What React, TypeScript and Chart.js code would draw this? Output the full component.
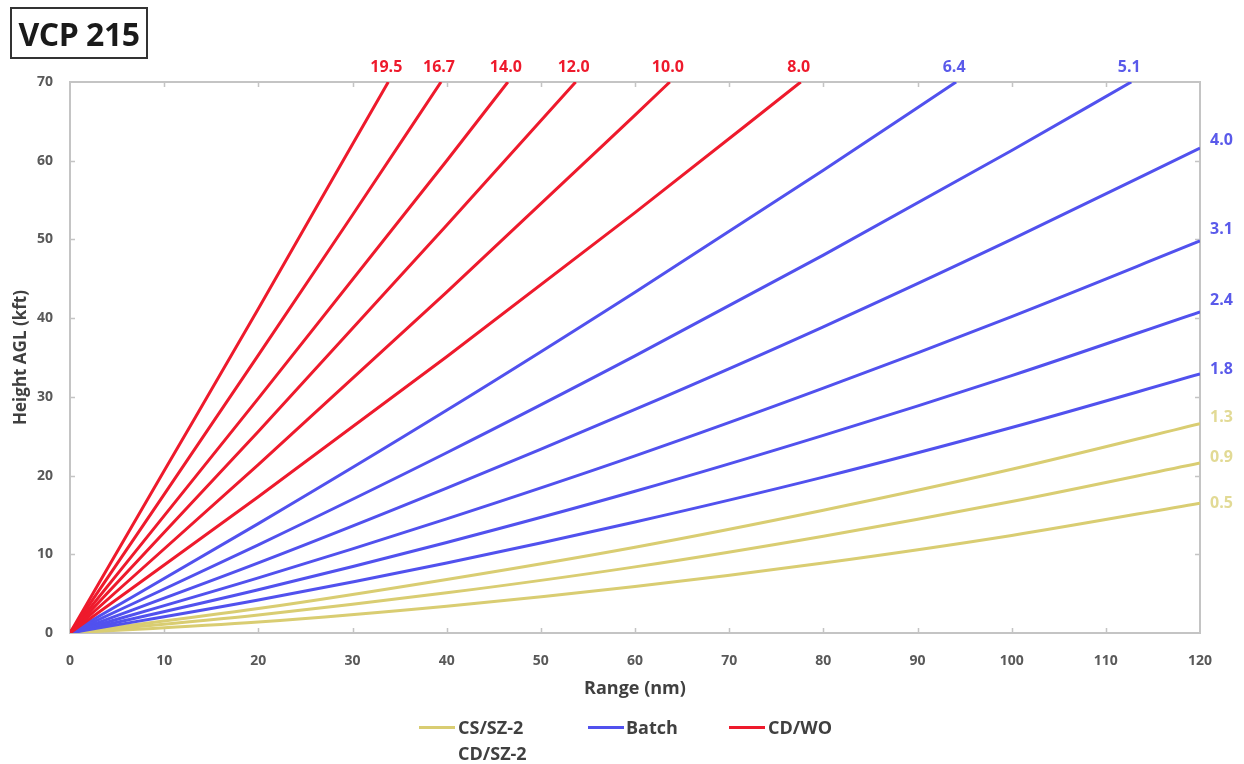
import React, { useEffect, useRef } from 'react';
import { Chart, registerables } from 'chart.js';

Chart.register(...registerables);

// ---- Data (range in nm, height AGL in kft) ----
const RANGE_STD = [0, 20, 40, 60, 80, 100, 120];
const H_05 = [0, 1.4, 3.4, 5.9, 8.9, 12.4, 16.5];
const H_09 = [0, 2.3, 5.1, 8.4, 12.3, 16.7, 21.6];
const H_13 = [0, 3.1, 6.8, 10.9, 15.6, 20.8, 26.6];
const H_18 = [0, 4.2, 8.9, 14.1, 19.8, 26.1, 32.9];
const H_24 = [0, 5.5, 11.5, 18.0, 25.1, 32.7, 40.8];
const H_31 = [0, 7.0, 14.5, 22.5, 31.1, 40.2, 49.8];
const H_40 = [0, 8.9, 18.4, 28.4, 38.9, 50.0, 61.6];

const RANGE_51 = [0, 20, 40, 60, 80, 100, 112.7];
const H_51 = [0, 11.2, 22.9, 35.2, 48.0, 61.3, 70];
const RANGE_64 = [0, 20, 40, 60, 80, 94.1];
const H_64 = [0, 13.9, 28.3, 43.3, 58.8, 70];
const RANGE_80 = [0, 20, 40, 60, 77.6];
const H_80 = [0, 17.3, 35.1, 53.4, 70];
const RANGE_100 = [0, 20, 40, 60, 63.7];
const H_100 = [0, 21.4, 43.3, 65.8, 70];
const RANGE_120 = [0, 20, 40, 53.7];
const H_120 = [0, 25.6, 51.8, 70];
const RANGE_140 = [0, 20, 40, 46.5];
const H_140 = [0, 29.8, 60.0, 70];
const RANGE_167 = [0, 10, 20, 30, 39.4];
const H_167 = [0, 17.6, 35.3, 53.1, 70];
const RANGE_195 = [0, 10, 20, 30, 33.8];
const H_195 = [0, 20.6, 41.2, 62.1, 70];

const ELEVATION_LABELS = ['0.5', '0.9', '1.3', '1.8', '2.4', '3.1', '4.0', '5.1', '6.4', '8.0', '10.0', '12.0', '14.0', '16.7', '19.5'];
const SERIES_RANGES = [RANGE_STD, RANGE_STD, RANGE_STD, RANGE_STD, RANGE_STD, RANGE_STD, RANGE_STD, RANGE_51, RANGE_64, RANGE_80, RANGE_100, RANGE_120, RANGE_140, RANGE_167, RANGE_195];
const SERIES_HEIGHTS = [H_05, H_09, H_13, H_18, H_24, H_31, H_40, H_51, H_64, H_80, H_100, H_120, H_140, H_167, H_195];
const SERIES_GROUP = ['CS/SZ-2', 'CS/SZ-2', 'CS/SZ-2', 'Batch', 'Batch', 'Batch', 'Batch', 'Batch', 'Batch', 'CD/WO', 'CD/WO', 'CD/WO', 'CD/WO', 'CD/WO', 'CD/WO'];

const X_MAX = 120;
const Y_MAX = 70;
const TICK_STEP_X = 10;
const TICK_STEP_Y = 10;

// ---- Styles ----
const GROUP_COLOR: Record<string, string> = {
  'CS/SZ-2': '#d9cd72',
  'Batch': '#5151ee',
  'CD/WO': '#ee1a2c',
};
const GROUP_LABEL_COLOR: Record<string, string> = {
  'CS/SZ-2': '#e2da95',
  'Batch': '#5a5aea',
  'CD/WO': '#ee1a2c',
};
const GROUP_ORDER: Record<string, number> = { 'CS/SZ-2': 3, 'Batch': 2, 'CD/WO': 1 };
const RIGHT_LABEL_OFFSET = [0, -6, -6, -5, -11, -12, -8];
const FONT = "'Open Sans', 'DejaVu Sans', sans-serif";
const AXIS_GRAY = '#c4c4c4';
const TEXT_GRAY = '#595959';

const framePlugin = {
  id: 'frameTicks',
  beforeDatasetsDraw(chart: any) {
    const { ctx, chartArea: a, scales } = chart;
    ctx.save();
    ctx.strokeStyle = AXIS_GRAY;
    ctx.lineWidth = 2;
    ctx.strokeRect(a.left, a.top, a.right - a.left, a.bottom - a.top);
    ctx.lineWidth = 1.5;
    ctx.beginPath();
    for (let v = TICK_STEP_X; v < X_MAX; v += TICK_STEP_X) {
      const x = Math.round(scales.x.getPixelForValue(v)) + 0.5;
      ctx.moveTo(x, a.top); ctx.lineTo(x, a.top + 5);
      ctx.moveTo(x, a.bottom); ctx.lineTo(x, a.bottom - 5);
    }
    for (let v = TICK_STEP_Y; v < Y_MAX; v += TICK_STEP_Y) {
      const y = Math.round(scales.y.getPixelForValue(v)) + 0.5;
      ctx.moveTo(a.left, y); ctx.lineTo(a.left + 5, y);
      ctx.moveTo(a.right, y); ctx.lineTo(a.right - 5, y);
    }
    ctx.stroke();
    ctx.restore();
  },
};

const labelPlugin = {
  id: 'elevLabels',
  afterDraw(chart: any) {
    const { ctx, chartArea: a, scales } = chart;
    ctx.save();
    ctx.font = `bold 16px ${FONT}`;
    SERIES_HEIGHTS.forEach((hs, i) => {
      const rs = SERIES_RANGES[i];
      const lastH = hs[hs.length - 1];
      const lastR = rs[rs.length - 1];
      ctx.fillStyle = GROUP_LABEL_COLOR[SERIES_GROUP[i]];
      if (lastH >= Y_MAX) {
        ctx.textAlign = 'center';
        ctx.textBaseline = 'middle';
        ctx.fillText(ELEVATION_LABELS[i], scales.x.getPixelForValue(lastR) - 2, a.top - 15);
      } else {
        ctx.textAlign = 'left';
        ctx.textBaseline = 'middle';
        ctx.fillText(ELEVATION_LABELS[i], a.right + 10, scales.y.getPixelForValue(lastH) + (RIGHT_LABEL_OFFSET[i] || 0));
      }
    });
    ctx.restore();
  },
};

export default function App() {
  const ref = useRef<HTMLCanvasElement>(null);

  useEffect(() => {
    if (!ref.current) return;
    const datasets = SERIES_HEIGHTS.map((hs, i) => ({
      label: `${ELEVATION_LABELS[i]}°`,
      data: hs.map((h, j) => ({ x: SERIES_RANGES[i][j], y: h })),
      borderColor: GROUP_COLOR[SERIES_GROUP[i]],
      backgroundColor: GROUP_COLOR[SERIES_GROUP[i]],
      borderWidth: 3,
      pointRadius: 0,
      cubicInterpolationMode: 'monotone' as const,
      fill: false,
      order: GROUP_ORDER[SERIES_GROUP[i]],
    }));
    const chart = new Chart(ref.current, {
      type: 'line',
      data: { datasets },
      options: {
        responsive: false,
        animation: false,
        layout: { padding: { left: 0, right: 44, top: 82, bottom: 64 } },
        plugins: { legend: { display: false }, tooltip: { enabled: false } },
        scales: {
          x: {
            type: 'linear',
            min: 0,
            max: X_MAX,
            grid: { display: false, drawTicks: false },
            border: { display: false },
            ticks: { stepSize: TICK_STEP_X, padding: 20, color: TEXT_GRAY, font: { family: FONT, size: 14, weight: 'bold' } },
            title: { display: true, text: 'Range (nm)', color: '#404040', padding: { top: 0, bottom: 0 }, font: { family: FONT, size: 18, weight: 'bold' } },
            afterFit: (s: any) => { s.height = 67; },
          },
          y: {
            type: 'linear',
            min: 0,
            max: Y_MAX,
            grid: { display: false, drawTicks: false },
            border: { display: false },
            ticks: { stepSize: TICK_STEP_Y, padding: 17, color: TEXT_GRAY, font: { family: FONT, size: 14, weight: 'bold' } },
            title: { display: true, text: 'Height AGL (kft)', color: '#404040', padding: { top: 11, bottom: 0 }, font: { family: FONT, size: 17, weight: 'bold' } },
            afterFit: (s: any) => { s.width = 70; },
          },
        },
      },
      plugins: [framePlugin, labelPlugin],
    });
    return () => chart.destroy();
  }, []);

  const legendText: React.CSSProperties = { position: 'absolute', fontFamily: FONT, fontWeight: 700, fontSize: 18, color: '#404040', lineHeight: '20px', whiteSpace: 'nowrap' };
  const legendLine = (left: number, color: string): React.CSSProperties => ({ position: 'absolute', left, top: 726, width: 36, height: 3, background: color });

  return (
    <div style={{ position: 'absolute', left: 0, top: 0, width: 1244, height: 764, background: '#fff', overflow: 'hidden' }}>
      <canvas ref={ref} width={1244} height={764} style={{ position: 'absolute', left: 0, top: 0, width: 1244, height: 764 }} />
      <div style={{ position: 'absolute', left: 10, top: 7, width: 134, height: 48, border: '2px solid #333', display: 'flex', alignItems: 'center', justifyContent: 'center', fontFamily: FONT, fontWeight: 700, fontSize: 32, color: '#1a1a1a', letterSpacing: -0.5 }}>VCP 215</div>
      <div style={legendLine(419, GROUP_COLOR['CS/SZ-2'])} />
      <div style={{ ...legendText, left: 458, top: 717 }}>CS/SZ-2</div>
      <div style={{ ...legendText, left: 458, top: 743 }}>CD/SZ-2</div>
      <div style={legendLine(588, GROUP_COLOR['Batch'])} />
      <div style={{ ...legendText, left: 626, top: 717 }}>Batch</div>
      <div style={legendLine(729, GROUP_COLOR['CD/WO'])} />
      <div style={{ ...legendText, left: 768, top: 717 }}>CD/WO</div>
    </div>
  );
}
